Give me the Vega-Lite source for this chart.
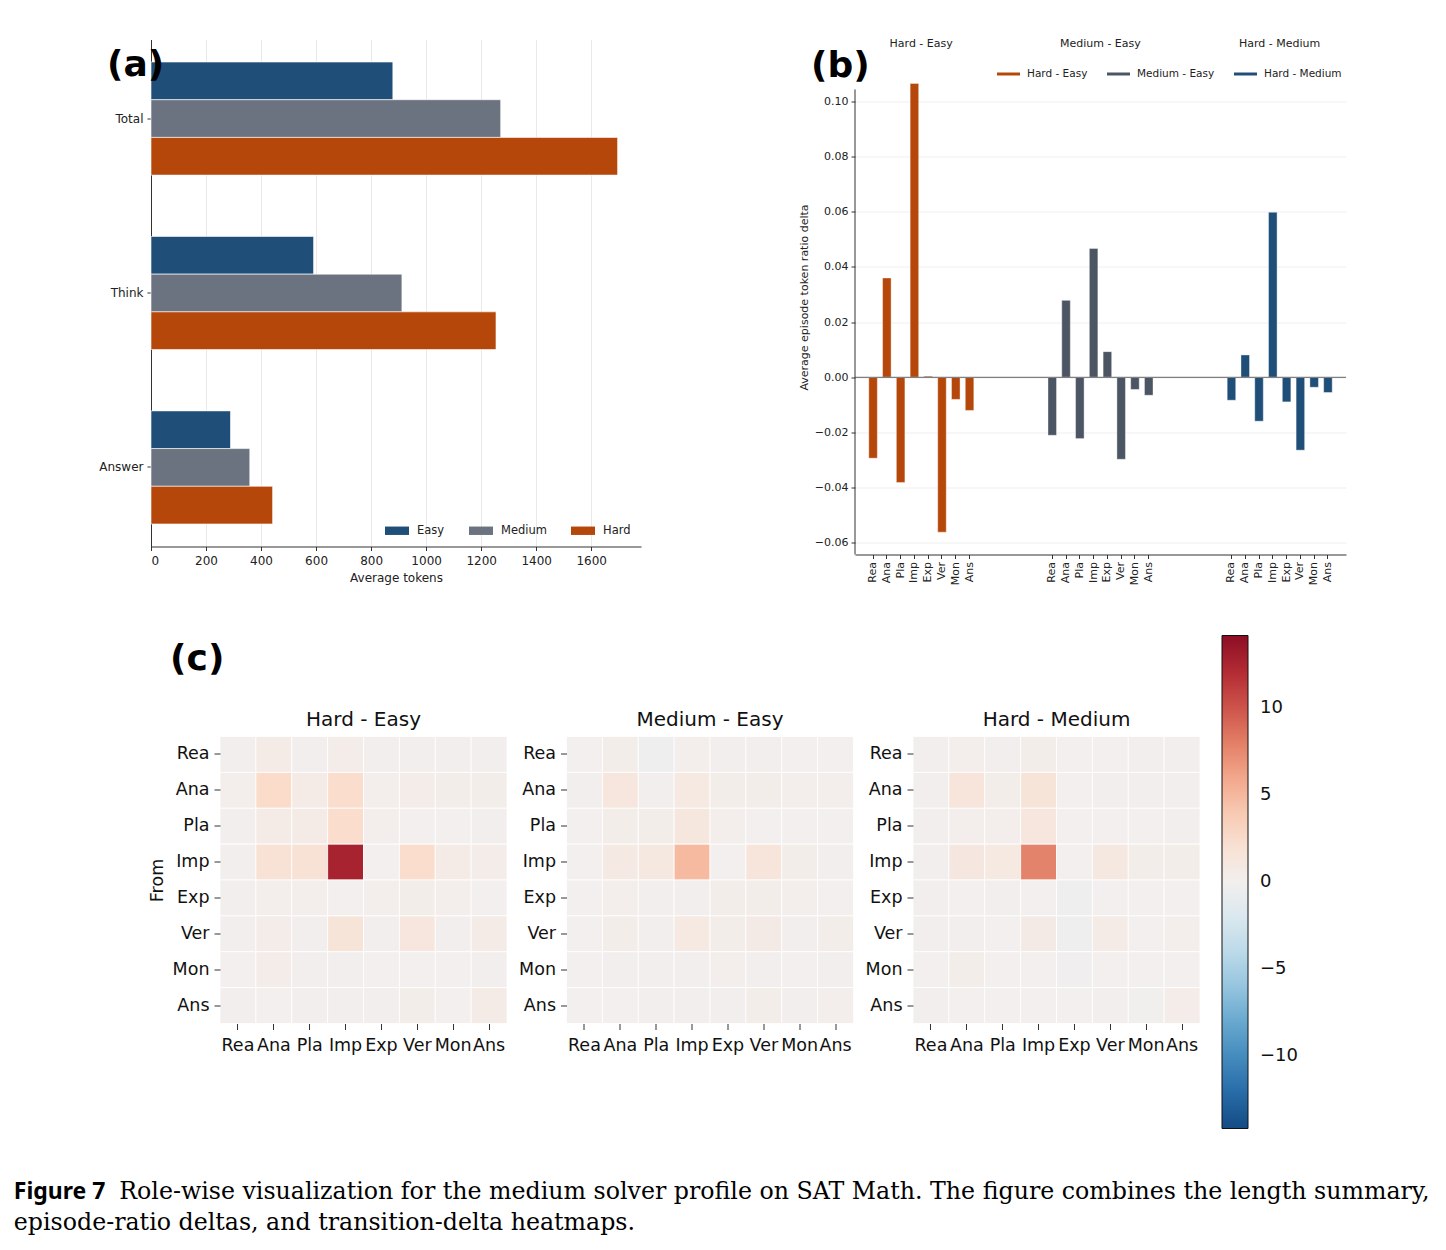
{
  "$schema": "https://vega.github.io/schema/vega-lite/v6.json",
  "background": "white",
  "padding": {"left": 13, "top": 37.5, "right": 10, "bottom": 10},
  "config": {
    "font": "DejaVu Sans",
    "view": {"stroke": null},
    "axis": {"labelColor": "#222", "titleColor": "#222", "tickColor": "#333", "domainColor": "#333", "titleFontWeight": "normal"},
    "legend": {"labelColor": "#222"}
  },
  "datasets": {
    "transitions": [
      {"pair":"Hard - Easy","from":"Rea","to":"Rea","value":0.1},{"pair":"Hard - Easy","from":"Rea","to":"Ana","value":0.5},{"pair":"Hard - Easy","from":"Rea","to":"Pla","value":0.1},{"pair":"Hard - Easy","from":"Rea","to":"Imp","value":0.4},{"pair":"Hard - Easy","from":"Rea","to":"Exp","value":0.1},{"pair":"Hard - Easy","from":"Rea","to":"Ver","value":0.1},{"pair":"Hard - Easy","from":"Rea","to":"Mon","value":0.1},{"pair":"Hard - Easy","from":"Rea","to":"Ans","value":0.1},
      {"pair":"Hard - Easy","from":"Ana","to":"Rea","value":0.2},{"pair":"Hard - Easy","from":"Ana","to":"Ana","value":2.8},{"pair":"Hard - Easy","from":"Ana","to":"Pla","value":0.5},{"pair":"Hard - Easy","from":"Ana","to":"Imp","value":2.5},{"pair":"Hard - Easy","from":"Ana","to":"Exp","value":0.2},{"pair":"Hard - Easy","from":"Ana","to":"Ver","value":0.4},{"pair":"Hard - Easy","from":"Ana","to":"Mon","value":0.3},{"pair":"Hard - Easy","from":"Ana","to":"Ans","value":0.3},
      {"pair":"Hard - Easy","from":"Pla","to":"Rea","value":0.1},{"pair":"Hard - Easy","from":"Pla","to":"Ana","value":0.5},{"pair":"Hard - Easy","from":"Pla","to":"Pla","value":0.5},{"pair":"Hard - Easy","from":"Pla","to":"Imp","value":2.5},{"pair":"Hard - Easy","from":"Pla","to":"Exp","value":0.2},{"pair":"Hard - Easy","from":"Pla","to":"Ver","value":0.0},{"pair":"Hard - Easy","from":"Pla","to":"Mon","value":0.0},{"pair":"Hard - Easy","from":"Pla","to":"Ans","value":0.1},
      {"pair":"Hard - Easy","from":"Imp","to":"Rea","value":0.1},{"pair":"Hard - Easy","from":"Imp","to":"Ana","value":1.9},{"pair":"Hard - Easy","from":"Imp","to":"Pla","value":1.9},{"pair":"Hard - Easy","from":"Imp","to":"Imp","value":12.7},{"pair":"Hard - Easy","from":"Imp","to":"Exp","value":0.0},{"pair":"Hard - Easy","from":"Imp","to":"Ver","value":2.5},{"pair":"Hard - Easy","from":"Imp","to":"Mon","value":0.6},{"pair":"Hard - Easy","from":"Imp","to":"Ans","value":0.4},
      {"pair":"Hard - Easy","from":"Exp","to":"Rea","value":0.1},{"pair":"Hard - Easy","from":"Exp","to":"Ana","value":0.2},{"pair":"Hard - Easy","from":"Exp","to":"Pla","value":0.2},{"pair":"Hard - Easy","from":"Exp","to":"Imp","value":0.0},{"pair":"Hard - Easy","from":"Exp","to":"Exp","value":0.2},{"pair":"Hard - Easy","from":"Exp","to":"Ver","value":0.3},{"pair":"Hard - Easy","from":"Exp","to":"Mon","value":0.2},{"pair":"Hard - Easy","from":"Exp","to":"Ans","value":0.0},
      {"pair":"Hard - Easy","from":"Ver","to":"Rea","value":0.1},{"pair":"Hard - Easy","from":"Ver","to":"Ana","value":0.4},{"pair":"Hard - Easy","from":"Ver","to":"Pla","value":0.1},{"pair":"Hard - Easy","from":"Ver","to":"Imp","value":1.6},{"pair":"Hard - Easy","from":"Ver","to":"Exp","value":0.1},{"pair":"Hard - Easy","from":"Ver","to":"Ver","value":1.3},{"pair":"Hard - Easy","from":"Ver","to":"Mon","value":0.1},{"pair":"Hard - Easy","from":"Ver","to":"Ans","value":0.5},
      {"pair":"Hard - Easy","from":"Mon","to":"Rea","value":0.0},{"pair":"Hard - Easy","from":"Mon","to":"Ana","value":0.4},{"pair":"Hard - Easy","from":"Mon","to":"Pla","value":0.1},{"pair":"Hard - Easy","from":"Mon","to":"Imp","value":0.1},{"pair":"Hard - Easy","from":"Mon","to":"Exp","value":0.0},{"pair":"Hard - Easy","from":"Mon","to":"Ver","value":0.0},{"pair":"Hard - Easy","from":"Mon","to":"Mon","value":0.0},{"pair":"Hard - Easy","from":"Mon","to":"Ans","value":0.1},
      {"pair":"Hard - Easy","from":"Ans","to":"Rea","value":0.1},{"pair":"Hard - Easy","from":"Ans","to":"Ana","value":0.0},{"pair":"Hard - Easy","from":"Ans","to":"Pla","value":0.1},{"pair":"Hard - Easy","from":"Ans","to":"Imp","value":0.1},{"pair":"Hard - Easy","from":"Ans","to":"Exp","value":0.1},{"pair":"Hard - Easy","from":"Ans","to":"Ver","value":0.3},{"pair":"Hard - Easy","from":"Ans","to":"Mon","value":0.0},{"pair":"Hard - Easy","from":"Ans","to":"Ans","value":0.6},

      {"pair":"Medium - Easy","from":"Rea","to":"Rea","value":0.0},{"pair":"Medium - Easy","from":"Rea","to":"Ana","value":0.3},{"pair":"Medium - Easy","from":"Rea","to":"Pla","value":-0.3},{"pair":"Medium - Easy","from":"Rea","to":"Imp","value":0.2},{"pair":"Medium - Easy","from":"Rea","to":"Exp","value":0.1},{"pair":"Medium - Easy","from":"Rea","to":"Ver","value":0.1},{"pair":"Medium - Easy","from":"Rea","to":"Mon","value":0.0},{"pair":"Medium - Easy","from":"Rea","to":"Ans","value":0.0},
      {"pair":"Medium - Easy","from":"Ana","to":"Rea","value":0.1},{"pair":"Medium - Easy","from":"Ana","to":"Ana","value":1.3},{"pair":"Medium - Easy","from":"Ana","to":"Pla","value":0.1},{"pair":"Medium - Easy","from":"Ana","to":"Imp","value":0.9},{"pair":"Medium - Easy","from":"Ana","to":"Exp","value":0.3},{"pair":"Medium - Easy","from":"Ana","to":"Ver","value":0.3},{"pair":"Medium - Easy","from":"Ana","to":"Mon","value":0.2},{"pair":"Medium - Easy","from":"Ana","to":"Ans","value":0.2},
      {"pair":"Medium - Easy","from":"Pla","to":"Rea","value":0.0},{"pair":"Medium - Easy","from":"Pla","to":"Ana","value":0.3},{"pair":"Medium - Easy","from":"Pla","to":"Pla","value":0.3},{"pair":"Medium - Easy","from":"Pla","to":"Imp","value":1.2},{"pair":"Medium - Easy","from":"Pla","to":"Exp","value":0.2},{"pair":"Medium - Easy","from":"Pla","to":"Ver","value":0.0},{"pair":"Medium - Easy","from":"Pla","to":"Mon","value":0.0},{"pair":"Medium - Easy","from":"Pla","to":"Ans","value":0.0},
      {"pair":"Medium - Easy","from":"Imp","to":"Rea","value":0.0},{"pair":"Medium - Easy","from":"Imp","to":"Ana","value":0.8},{"pair":"Medium - Easy","from":"Imp","to":"Pla","value":1.0},{"pair":"Medium - Easy","from":"Imp","to":"Imp","value":4.9},{"pair":"Medium - Easy","from":"Imp","to":"Exp","value":0.0},{"pair":"Medium - Easy","from":"Imp","to":"Ver","value":1.5},{"pair":"Medium - Easy","from":"Imp","to":"Mon","value":0.3},{"pair":"Medium - Easy","from":"Imp","to":"Ans","value":0.1},
      {"pair":"Medium - Easy","from":"Exp","to":"Rea","value":0.0},{"pair":"Medium - Easy","from":"Exp","to":"Ana","value":0.2},{"pair":"Medium - Easy","from":"Exp","to":"Pla","value":0.1},{"pair":"Medium - Easy","from":"Exp","to":"Imp","value":0.1},{"pair":"Medium - Easy","from":"Exp","to":"Exp","value":0.3},{"pair":"Medium - Easy","from":"Exp","to":"Ver","value":0.3},{"pair":"Medium - Easy","from":"Exp","to":"Mon","value":0.2},{"pair":"Medium - Easy","from":"Exp","to":"Ans","value":0.0},
      {"pair":"Medium - Easy","from":"Ver","to":"Rea","value":0.0},{"pair":"Medium - Easy","from":"Ver","to":"Ana","value":0.3},{"pair":"Medium - Easy","from":"Ver","to":"Pla","value":0.1},{"pair":"Medium - Easy","from":"Ver","to":"Imp","value":0.9},{"pair":"Medium - Easy","from":"Ver","to":"Exp","value":0.3},{"pair":"Medium - Easy","from":"Ver","to":"Ver","value":0.7},{"pair":"Medium - Easy","from":"Ver","to":"Mon","value":0.1},{"pair":"Medium - Easy","from":"Ver","to":"Ans","value":0.3},
      {"pair":"Medium - Easy","from":"Mon","to":"Rea","value":0.0},{"pair":"Medium - Easy","from":"Mon","to":"Ana","value":0.1},{"pair":"Medium - Easy","from":"Mon","to":"Pla","value":0.1},{"pair":"Medium - Easy","from":"Mon","to":"Imp","value":0.1},{"pair":"Medium - Easy","from":"Mon","to":"Exp","value":0.2},{"pair":"Medium - Easy","from":"Mon","to":"Ver","value":0.1},{"pair":"Medium - Easy","from":"Mon","to":"Mon","value":0.0},{"pair":"Medium - Easy","from":"Mon","to":"Ans","value":0.1},
      {"pair":"Medium - Easy","from":"Ans","to":"Rea","value":0.0},{"pair":"Medium - Easy","from":"Ans","to":"Ana","value":0.0},{"pair":"Medium - Easy","from":"Ans","to":"Pla","value":0.1},{"pair":"Medium - Easy","from":"Ans","to":"Imp","value":0.1},{"pair":"Medium - Easy","from":"Ans","to":"Exp","value":0.1},{"pair":"Medium - Easy","from":"Ans","to":"Ver","value":0.3},{"pair":"Medium - Easy","from":"Ans","to":"Mon","value":0.1},{"pair":"Medium - Easy","from":"Ans","to":"Ans","value":0.2},

      {"pair":"Hard - Medium","from":"Rea","to":"Rea","value":0.1},{"pair":"Hard - Medium","from":"Rea","to":"Ana","value":0.2},{"pair":"Hard - Medium","from":"Rea","to":"Pla","value":0.1},{"pair":"Hard - Medium","from":"Rea","to":"Imp","value":0.3},{"pair":"Hard - Medium","from":"Rea","to":"Exp","value":0.0},{"pair":"Hard - Medium","from":"Rea","to":"Ver","value":0.0},{"pair":"Hard - Medium","from":"Rea","to":"Mon","value":0.1},{"pair":"Hard - Medium","from":"Rea","to":"Ans","value":0.1},
      {"pair":"Hard - Medium","from":"Ana","to":"Rea","value":0.1},{"pair":"Hard - Medium","from":"Ana","to":"Ana","value":1.5},{"pair":"Hard - Medium","from":"Ana","to":"Pla","value":0.3},{"pair":"Hard - Medium","from":"Ana","to":"Imp","value":1.6},{"pair":"Hard - Medium","from":"Ana","to":"Exp","value":0.0},{"pair":"Hard - Medium","from":"Ana","to":"Ver","value":0.1},{"pair":"Hard - Medium","from":"Ana","to":"Mon","value":0.1},{"pair":"Hard - Medium","from":"Ana","to":"Ans","value":0.1},
      {"pair":"Hard - Medium","from":"Pla","to":"Rea","value":0.1},{"pair":"Hard - Medium","from":"Pla","to":"Ana","value":0.2},{"pair":"Hard - Medium","from":"Pla","to":"Pla","value":0.2},{"pair":"Hard - Medium","from":"Pla","to":"Imp","value":1.3},{"pair":"Hard - Medium","from":"Pla","to":"Exp","value":0.0},{"pair":"Hard - Medium","from":"Pla","to":"Ver","value":0.0},{"pair":"Hard - Medium","from":"Pla","to":"Mon","value":0.0},{"pair":"Hard - Medium","from":"Pla","to":"Ans","value":0.1},
      {"pair":"Hard - Medium","from":"Imp","to":"Rea","value":0.1},{"pair":"Hard - Medium","from":"Imp","to":"Ana","value":1.1},{"pair":"Hard - Medium","from":"Imp","to":"Pla","value":0.9},{"pair":"Hard - Medium","from":"Imp","to":"Imp","value":7.8},{"pair":"Hard - Medium","from":"Imp","to":"Exp","value":0.0},{"pair":"Hard - Medium","from":"Imp","to":"Ver","value":1.0},{"pair":"Hard - Medium","from":"Imp","to":"Mon","value":0.3},{"pair":"Hard - Medium","from":"Imp","to":"Ans","value":0.3},
      {"pair":"Hard - Medium","from":"Exp","to":"Rea","value":0.1},{"pair":"Hard - Medium","from":"Exp","to":"Ana","value":0.0},{"pair":"Hard - Medium","from":"Exp","to":"Pla","value":0.1},{"pair":"Hard - Medium","from":"Exp","to":"Imp","value":0.0},{"pair":"Hard - Medium","from":"Exp","to":"Exp","value":-0.3},{"pair":"Hard - Medium","from":"Exp","to":"Ver","value":0.0},{"pair":"Hard - Medium","from":"Exp","to":"Mon","value":0.0},{"pair":"Hard - Medium","from":"Exp","to":"Ans","value":0.0},
      {"pair":"Hard - Medium","from":"Ver","to":"Rea","value":0.1},{"pair":"Hard - Medium","from":"Ver","to":"Ana","value":0.1},{"pair":"Hard - Medium","from":"Ver","to":"Pla","value":0.0},{"pair":"Hard - Medium","from":"Ver","to":"Imp","value":0.7},{"pair":"Hard - Medium","from":"Ver","to":"Exp","value":-0.3},{"pair":"Hard - Medium","from":"Ver","to":"Ver","value":0.6},{"pair":"Hard - Medium","from":"Ver","to":"Mon","value":0.0},{"pair":"Hard - Medium","from":"Ver","to":"Ans","value":0.2},
      {"pair":"Hard - Medium","from":"Mon","to":"Rea","value":0.0},{"pair":"Hard - Medium","from":"Mon","to":"Ana","value":0.3},{"pair":"Hard - Medium","from":"Mon","to":"Pla","value":0.0},{"pair":"Hard - Medium","from":"Mon","to":"Imp","value":0.0},{"pair":"Hard - Medium","from":"Mon","to":"Exp","value":-0.2},{"pair":"Hard - Medium","from":"Mon","to":"Ver","value":0.0},{"pair":"Hard - Medium","from":"Mon","to":"Mon","value":0.0},{"pair":"Hard - Medium","from":"Mon","to":"Ans","value":0.0},
      {"pair":"Hard - Medium","from":"Ans","to":"Rea","value":0.1},{"pair":"Hard - Medium","from":"Ans","to":"Ana","value":0.0},{"pair":"Hard - Medium","from":"Ans","to":"Pla","value":0.0},{"pair":"Hard - Medium","from":"Ans","to":"Imp","value":0.0},{"pair":"Hard - Medium","from":"Ans","to":"Exp","value":0.0},{"pair":"Hard - Medium","from":"Ans","to":"Ver","value":0.1},{"pair":"Hard - Medium","from":"Ans","to":"Mon","value":-0.1},{"pair":"Hard - Medium","from":"Ans","to":"Ans","value":0.4}
    ]
  },
  "title": {
    "text": "Figure 7",
    "subtitle": ["\u200b\u00a0\u00a0\u00a0\u00a0\u00a0\u00a0\u00a0\u00a0\u00a0\u00a0\u00a0\u00a0\u00a0\u00a0Role-wise visualization for the medium solver profile on SAT Math. The figure combines the length summary,", "episode-ratio deltas, and transition-delta heatmaps."],
    "orient": "bottom",
    "anchor": "start",
    "frame": "bounds",
    "font": "Noto Sans",
    "fontSize": 23,
    "fontWeight": "bold",
    "color": "black",
    "dx": -85,
    "offset": 51,
    "subtitleFont": "DejaVu Serif",
    "subtitleFontSize": 23.7,
    "subtitleColor": "black",
    "subtitlePadding": -24,
    "subtitleLineHeight": 31
  },
  "resolve": {"scale": {"color": "independent"}},
  "center": true,
  "spacing": 50,
  "vconcat": [
    {
      "spacing": 157,
      "resolve": {"scale": {"color": "independent"}},
      "hconcat": [
        {
          "width": 490,
          "height": 507,
          "title": {"text": "(a)", "anchor": "start", "frame": "group", "fontSize": 36, "fontWeight": "bold", "color": "black", "offset": -72, "baseline": "alphabetic", "dx": -44},
          "data": {"values": [
            {"segment": "Total", "level": "Easy", "tokens": 879},
            {"segment": "Total", "level": "Medium", "tokens": 1271},
            {"segment": "Total", "level": "Hard", "tokens": 1696},
            {"segment": "Think", "level": "Easy", "tokens": 591},
            {"segment": "Think", "level": "Medium", "tokens": 912},
            {"segment": "Think", "level": "Hard", "tokens": 1254},
            {"segment": "Answer", "level": "Easy", "tokens": 289},
            {"segment": "Answer", "level": "Medium", "tokens": 359},
            {"segment": "Answer", "level": "Hard", "tokens": 442}
          ]},
          "mark": {"type": "bar", "stroke": "white", "strokeWidth": 0.6},
          "encoding": {
            "y": {"field": "segment", "type": "nominal", "sort": ["Total", "Think", "Answer"],
                  "scale": {"paddingInner": 0.3515, "paddingOuter": 0.129},
                  "axis": {"title": null, "labelFontSize": 12, "tickSize": 4, "labelPadding": 4}},
            "yOffset": {"field": "level", "type": "nominal", "sort": ["Easy", "Medium", "Hard"], "scale": {"paddingInner": 0, "paddingOuter": 0}},
            "x": {"field": "tokens", "type": "quantitative", "scale": {"domain": [0, 1781], "nice": false},
                  "axis": {"values": [0, 200, 400, 600, 800, 1000, 1200, 1400, 1600], "format": "d", "title": "Average tokens", "titleFontSize": 12, "labelFontSize": 12, "grid": true, "gridColor": "#e9e9e9", "tickSize": 4, "titlePadding": 6, "labelPadding": 5}},
            "color": {"field": "level", "type": "nominal",
                      "scale": {"domain": ["Easy", "Medium", "Hard"], "range": ["#1f4e79", "#6b7280", "#b5470b"]},
                      "legend": {"title": null, "orient": "bottom-right", "direction": "horizontal", "symbolType": "M-1,-0.35H1V0.35H-1Z", "symbolSize": 576, "symbolStrokeWidth": 0, "labelFontSize": 11.5, "columnPadding": 24, "labelOffset": 8, "offset": 10, "padding": 0}}
          }
        },
        {
          "width": 491,
          "height": 515,
          "title": {"text": "(b)", "anchor": "start", "frame": "group", "fontSize": 36, "fontWeight": "bold", "color": "black", "offset": -75, "baseline": "alphabetic", "dx": -44},
          "layer": [
            {
              "data": {"values": [
                {"group": "Hard - Easy", "slot": "HE-Rea", "delta": -0.0293},
                {"group": "Hard - Easy", "slot": "HE-Ana", "delta": 0.0360},
                {"group": "Hard - Easy", "slot": "HE-Pla", "delta": -0.0381},
                {"group": "Hard - Easy", "slot": "HE-Imp", "delta": 0.1065},
                {"group": "Hard - Easy", "slot": "HE-Exp", "delta": 0.0004},
                {"group": "Hard - Easy", "slot": "HE-Ver", "delta": -0.0561},
                {"group": "Hard - Easy", "slot": "HE-Mon", "delta": -0.0080},
                {"group": "Hard - Easy", "slot": "HE-Ans", "delta": -0.0120},
                {"group": "Medium - Easy", "slot": "ME-Rea", "delta": -0.0210},
                {"group": "Medium - Easy", "slot": "ME-Ana", "delta": 0.0279},
                {"group": "Medium - Easy", "slot": "ME-Pla", "delta": -0.0222},
                {"group": "Medium - Easy", "slot": "ME-Imp", "delta": 0.0467},
                {"group": "Medium - Easy", "slot": "ME-Exp", "delta": 0.0093},
                {"group": "Medium - Easy", "slot": "ME-Ver", "delta": -0.0297},
                {"group": "Medium - Easy", "slot": "ME-Mon", "delta": -0.0044},
                {"group": "Medium - Easy", "slot": "ME-Ans", "delta": -0.0065},
                {"group": "Hard - Medium", "slot": "HM-Rea", "delta": -0.0083},
                {"group": "Hard - Medium", "slot": "HM-Ana", "delta": 0.0081},
                {"group": "Hard - Medium", "slot": "HM-Pla", "delta": -0.0159},
                {"group": "Hard - Medium", "slot": "HM-Imp", "delta": 0.0598},
                {"group": "Hard - Medium", "slot": "HM-Exp", "delta": -0.0089},
                {"group": "Hard - Medium", "slot": "HM-Ver", "delta": -0.0264},
                {"group": "Hard - Medium", "slot": "HM-Mon", "delta": -0.0036},
                {"group": "Hard - Medium", "slot": "HM-Ans", "delta": -0.0055}
              ]},
              "mark": {"type": "bar", "stroke": "white", "strokeWidth": 0.4},
              "encoding": {
                "x": {"field": "slot", "type": "nominal",
                      "scale": {"domain": ["HE-Rea","HE-Ana","HE-Pla","HE-Imp","HE-Exp","HE-Ver","HE-Mon","HE-Ans","gap1","gap2","gap3","gap4","gap5","ME-Rea","ME-Ana","ME-Pla","ME-Imp","ME-Exp","ME-Ver","ME-Mon","ME-Ans","gap6","gap7","gap8","gap9","gap10","HM-Rea","HM-Ana","HM-Pla","HM-Imp","HM-Exp","HM-Ver","HM-Mon","HM-Ans"],
                                "paddingInner": 0.38, "paddingOuter": 1.68, "align": 0.5},
                      "axis": {"values": ["HE-Rea","HE-Ana","HE-Pla","HE-Imp","HE-Exp","HE-Ver","HE-Mon","HE-Ans","ME-Rea","ME-Ana","ME-Pla","ME-Imp","ME-Exp","ME-Ver","ME-Mon","ME-Ans","HM-Rea","HM-Ana","HM-Pla","HM-Imp","HM-Exp","HM-Ver","HM-Mon","HM-Ans"],
                               "labelExpr": "split(datum.value, '-')[1]", "labelAngle": 270, "labelFontSize": 11, "tickSize": 4, "labelPadding": 3, "title": null, "grid": false}},
                "y": {"field": "delta", "type": "quantitative", "scale": {"domain": [-0.0642, 0.1224], "nice": false},
                      "axis": {"values": [-0.06, -0.04, -0.02, 0, 0.02, 0.04, 0.06, 0.08, 0.10], "format": ".2f", "title": "Average episode token ratio delta", "titleFontSize": 11, "titlePadding": 5, "labelFontSize": 11, "tickSize": 4, "labelPadding": 3, "grid": true, "gridColor": "#efefef", "domain": false}},
                "color": {"field": "group", "type": "nominal",
                          "scale": {"domain": ["Hard - Easy", "Medium - Easy", "Hard - Medium"], "range": ["#b5470b", "#4b5563", "#1f4e79"]},
                          "legend": {"title": null, "orient": "none", "legendX": 117, "legendY": -2, "padding": 25, "direction": "horizontal", "symbolType": "M-1,-0.13H1V0.13H-1Z", "symbolSize": 529, "symbolStrokeWidth": 0, "labelFontSize": 10.5, "columnPadding": 19, "labelOffset": 7}}
              }
            },
            {
              "data": {"values": [{}]},
              "mark": {"type": "rule", "color": "#808080", "strokeWidth": 1.3},
              "encoding": {"y": {"datum": 0}}
            },
            {
              "data": {"values": [{}]},
              "mark": {"type": "rule", "color": "#333", "strokeWidth": 1},
              "encoding": {"x": {"value": 0}, "y": {"datum": -0.0642}, "y2": {"datum": 0.1043}}
            },
            {
              "data": {"values": [
                {"group": "Hard - Easy", "slot": "HE-Imp"},
                {"group": "Medium - Easy", "slot": "ME-Imp"},
                {"group": "Hard - Medium", "slot": "HM-Imp"}
              ]},
              "mark": {"type": "text", "fontSize": 11, "color": "#222", "baseline": "middle", "align": "center"},
              "encoding": {
                "x": {"field": "slot", "type": "nominal", "bandPosition": 1.29},
                "y": {"datum": 0.1209},
                "text": {"field": "group"}
              }
            }
          ]
        }
      ]
    },
    {
      "spacing": 10.5,
      "title": {"text": "(c)", "anchor": "start", "fontSize": 36, "fontWeight": "bold", "color": "black", "offset": -70, "baseline": "alphabetic", "dx": 22},
      "hconcat": [
        {
          "width": 287, "height": 287,
          "title": {"text": "Hard - Easy", "fontSize": 20, "fontWeight": "normal", "color": "#111", "offset": 6},
          "data": {"name": "transitions"},
          "transform": [{"filter": "datum.pair === 'Hard - Easy'"}],
          "mark": {"type": "rect", "stroke": "white", "strokeWidth": 0.8},
          "encoding": {
            "x": {"field": "to", "type": "nominal", "sort": ["Rea","Ana","Pla","Imp","Exp","Ver","Mon","Ans"], "scale": {"paddingInner": 0, "paddingOuter": 0},
                  "axis": {"title": null, "labelAngle": 0, "labelFontSize": 17.5, "labelColor": "#111", "tickSize": 6, "domain": false, "labelPadding": 7, "labelOverlap": false}},
            "y": {"field": "from", "type": "nominal", "sort": ["Rea","Ana","Pla","Imp","Exp","Ver","Mon","Ans"], "scale": {"paddingInner": 0, "paddingOuter": 0},
                  "axis": {"title": "From", "titleFontSize": 17.5, "titleColor": "#111", "titlePadding": 6, "labelFontSize": 17.5, "labelColor": "#111", "tickSize": 6, "domain": false, "labelPadding": 5}},
            "color": {"field": "value", "type": "quantitative", "scale": {"scheme": "redblue", "reverse": true, "domain": [-14.2, 14.2]},
                      "legend": {"title": null, "orient": "none", "legendX": 1002, "legendY": -101, "direction": "vertical", "gradientLength": 493, "gradientThickness": 26, "gradientStrokeColor": "#111", "gradientStrokeWidth": 1, "values": [-10, -5, 0, 5, 10], "labelFontSize": 18, "labelColor": "#111", "labelOffset": 12, "labelOverlap": false, "padding": 0}}
          }
        },
        {
          "width": 287, "height": 287,
          "title": {"text": "Medium - Easy", "fontSize": 20, "fontWeight": "normal", "color": "#111", "offset": 6},
          "data": {"name": "transitions"},
          "transform": [{"filter": "datum.pair === 'Medium - Easy'"}],
          "mark": {"type": "rect", "stroke": "white", "strokeWidth": 0.8},
          "encoding": {
            "x": {"field": "to", "type": "nominal", "sort": ["Rea","Ana","Pla","Imp","Exp","Ver","Mon","Ans"], "scale": {"paddingInner": 0, "paddingOuter": 0},
                  "axis": {"title": null, "labelAngle": 0, "labelFontSize": 17.5, "labelColor": "#111", "tickSize": 6, "domain": false, "labelPadding": 7, "labelOverlap": false}},
            "y": {"field": "from", "type": "nominal", "sort": ["Rea","Ana","Pla","Imp","Exp","Ver","Mon","Ans"], "scale": {"paddingInner": 0, "paddingOuter": 0},
                  "axis": {"title": null, "labelFontSize": 17.5, "labelColor": "#111", "tickSize": 6, "domain": false, "labelPadding": 5}},
            "color": {"field": "value", "type": "quantitative", "scale": {"scheme": "redblue", "reverse": true, "domain": [-14.2, 14.2]}}
          }
        },
        {
          "width": 287, "height": 287,
          "title": {"text": "Hard - Medium", "fontSize": 20, "fontWeight": "normal", "color": "#111", "offset": 6},
          "data": {"name": "transitions"},
          "transform": [{"filter": "datum.pair === 'Hard - Medium'"}],
          "mark": {"type": "rect", "stroke": "white", "strokeWidth": 0.8},
          "encoding": {
            "x": {"field": "to", "type": "nominal", "sort": ["Rea","Ana","Pla","Imp","Exp","Ver","Mon","Ans"], "scale": {"paddingInner": 0, "paddingOuter": 0},
                  "axis": {"title": null, "labelAngle": 0, "labelFontSize": 17.5, "labelColor": "#111", "tickSize": 6, "domain": false, "labelPadding": 7, "labelOverlap": false}},
            "y": {"field": "from", "type": "nominal", "sort": ["Rea","Ana","Pla","Imp","Exp","Ver","Mon","Ans"], "scale": {"paddingInner": 0, "paddingOuter": 0},
                  "axis": {"title": null, "labelFontSize": 17.5, "labelColor": "#111", "tickSize": 6, "domain": false, "labelPadding": 5}},
            "color": {"field": "value", "type": "quantitative", "scale": {"scheme": "redblue", "reverse": true, "domain": [-14.2, 14.2]}}
          }
        }
      ]
    }
  ]
}
